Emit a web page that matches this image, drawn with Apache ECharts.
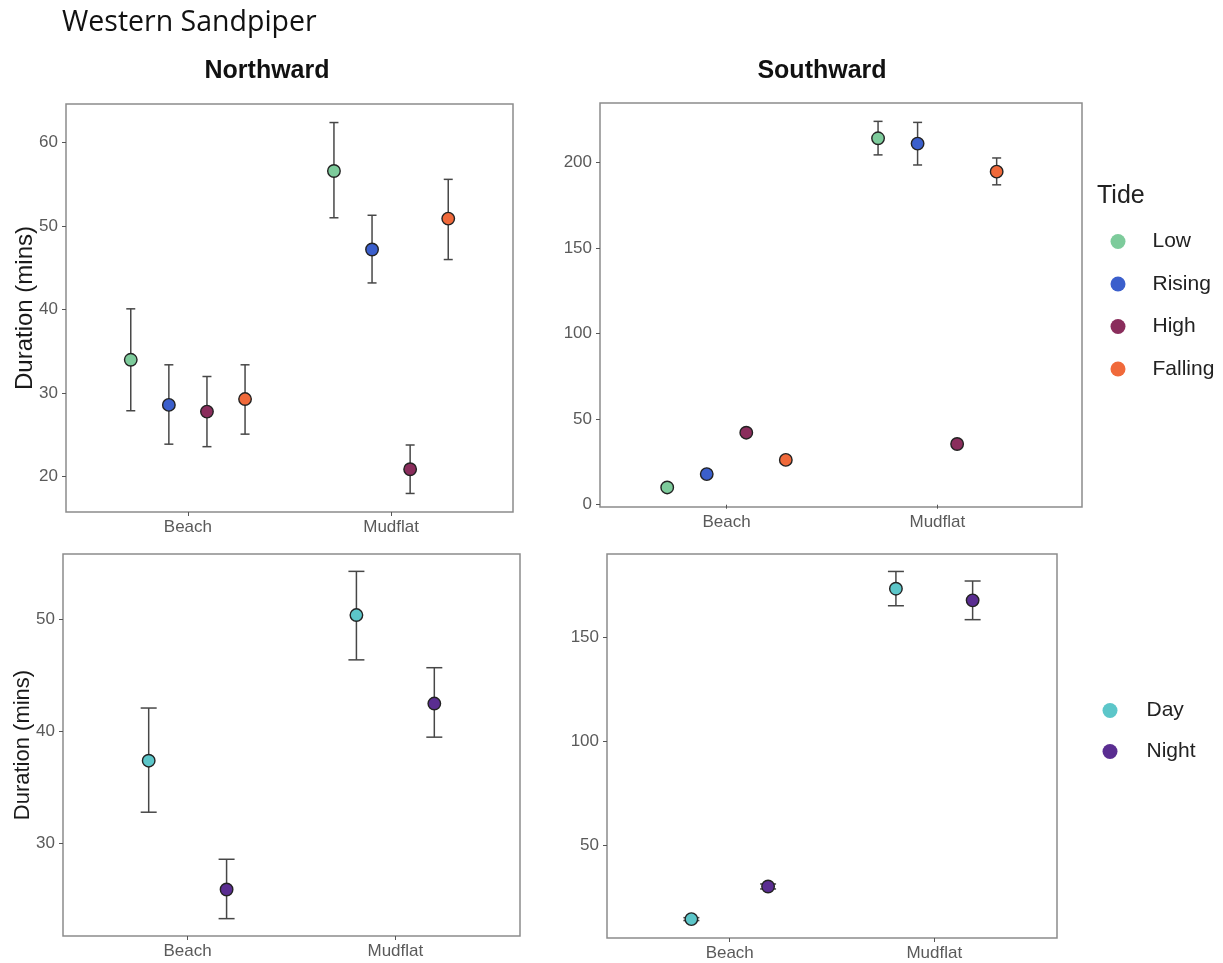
<!DOCTYPE html>
<html>
<head>
<meta charset="utf-8">
<script src="https://cdn.jsdelivr.net/npm/echarts@6/dist/echarts.min.js"></script>
<style>
html,body{margin:0;padding:0;background:#fff;}
#chart{width:1223px;height:963px;}
</style>
</head>
<body>
<div id="chart"></div>
<script>
// ---------- data ----------
const categories = ['Beach', 'Mudflat'];
const tideLevels = ['Low', 'Rising', 'High', 'Falling'];
const dielLevels = ['Day', 'Night'];
const tideColors = ['#7DCB9B', '#3B5FCC', '#8A2D5C', '#F0693A'];
const dielColors = ['#5CC6C9', '#5A2D91'];

// each row = one level, values for [Beach, Mudflat]
const northTideMean  = [[34.0, 56.6], [28.6, 47.2], [27.8, 20.9], [29.3, 50.9]];
const northTideLower = [[27.9, 51.0], [23.9, 43.2], [23.6, 18.0], [25.1, 46.0]];
const northTideUpper = [[40.1, 62.4], [33.4, 51.3], [32.0, 23.8], [33.4, 55.6]];

const southTideMean  = [[10.1, 214.2], [17.9, 211.1], [42.1, 35.5], [26.2, 194.7]];
const southTideLower = [[9.4, 204.5], [16.7, 198.6], [40.9, 34.3], [25.0, 187.0]];
const southTideUpper = [[10.8, 224.1], [19.1, 223.5], [43.3, 36.7], [27.4, 202.7]];

const northDielMean  = [[37.4, 50.4], [25.9, 42.5]];
const northDielLower = [[32.8, 46.4], [23.3, 39.5]];
const northDielUpper = [[42.1, 54.3], [28.6, 45.7]];

const southDielMean  = [[14.6, 173.6], [30.3, 168.0]];
const southDielLower = [[13.9, 165.4], [29.1, 158.7]];
const southDielUpper = [[15.3, 181.9], [31.5, 177.3]];

const northTideTicks = [20, 30, 40, 50, 60];
const southTideTicks = [0, 50, 100, 150, 200];
const northDielTicks = [30, 40, 50];
const southDielTicks = [50, 100, 150];

// ---------- layout ----------
const panels = [
  {mean: northTideMean, lower: northTideLower, upper: northTideUpper, levels: tideLevels, colors: tideColors,
   ticks: northTideTicks, grid: {left: 66, top: 104, width: 447, height: 408}, xMax: 2.6, cap: 4.5,
   yName: 'Duration (mins)', nameSize: 24},
  {mean: southTideMean, lower: southTideLower, upper: southTideUpper, levels: tideLevels, colors: tideColors,
   ticks: southTideTicks, grid: {left: 600, top: 103, width: 482, height: 404}, xMax: 2.686, cap: 4.5,
   yName: '', nameSize: 24},
  {mean: northDielMean, lower: northDielLower, upper: northDielUpper, levels: dielLevels, colors: dielColors,
   ticks: northDielTicks, grid: {left: 63, top: 554, width: 457, height: 382}, xMax: 2.6, cap: 8,
   yName: 'Duration (mins)', nameSize: 22},
  {mean: southDielMean, lower: southDielLower, upper: southDielUpper, levels: dielLevels, colors: dielColors,
   ticks: southDielTicks, grid: {left: 607, top: 554, width: 450, height: 384}, xMax: 2.6, cap: 8,
   yName: '', nameSize: 22}
];

const labelColor = '#5a5a5a';
const grids = [], xAxes = [], yAxes = [], series = [];

panels.forEach((p, pi) => {
  grids.push(Object.assign({show: true, borderColor: '#8c8c8c', borderWidth: 1.5, backgroundColor: '#fff'}, p.grid));
  const lows = p.lower.flat(), highs = p.upper.flat();
  const lo = Math.min(...lows), hi = Math.max(...highs);
  const pad = 0.05 * (hi - lo);
  xAxes.push({
    type: 'value', gridIndex: pi, min: 0.4, max: p.xMax,
    splitLine: {show: false}, axisLine: {show: false},
    axisTick: {show: true, customValues: [1, 2], length: 4, lineStyle: {color: '#555', width: 1}},
    axisLabel: {customValues: [1, 2], formatter: v => categories[Math.round(v) - 1],
      color: labelColor, fontSize: 17, fontFamily: 'Liberation Sans', margin: 7}
  });
  yAxes.push({
    type: 'value', gridIndex: pi, min: lo - pad, max: hi + pad,
    splitLine: {show: false}, axisLine: {show: false},
    axisTick: {show: true, customValues: p.ticks, length: 4, lineStyle: {color: '#555', width: 1}},
    axisLabel: {customValues: p.ticks, color: labelColor, fontSize: 17, fontFamily: 'Liberation Sans', margin: 8},
    name: p.yName, nameLocation: 'middle', nameGap: 29, nameMoveOverlap: false,
    nameTextStyle: {fontSize: p.nameSize, color: '#1a1a1a', fontFamily: 'Liberation Sans'}
  });
  const n = p.levels.length;
  const step = 0.75 / n;
  p.levels.forEach((lev, g) => {
    const xs = categories.map((c, i) => i + 1 + (g - (n - 1) / 2) * step);
    series.push({
      type: 'custom', name: 'err_' + pi + '_' + g, xAxisIndex: pi, yAxisIndex: pi, z: 2, silent: true,
      data: categories.map((c, i) => [xs[i], p.lower[g][i], p.upper[g][i]]),
      encode: {x: 0, y: [1, 2]},
      renderItem: (params, api) => {
        const x = api.value(0);
        const a = api.coord([x, api.value(1)]);
        const b = api.coord([x, api.value(2)]);
        const st = {stroke: '#474747', lineWidth: 1.5};
        const w = p.cap;
        return {type: 'group', children: [
          {type: 'line', shape: {x1: a[0], y1: a[1], x2: b[0], y2: b[1]}, style: st},
          {type: 'line', shape: {x1: a[0] - w, y1: a[1], x2: a[0] + w, y2: a[1]}, style: st},
          {type: 'line', shape: {x1: b[0] - w, y1: b[1], x2: b[0] + w, y2: b[1]}, style: st}
        ]};
      }
    });
    series.push({
      type: 'scatter', name: lev, xAxisIndex: pi, yAxisIndex: pi, z: 3,
      symbol: 'circle', symbolSize: 12.5,
      itemStyle: {color: p.colors[g], borderColor: '#222', borderWidth: 1.4, opacity: 1},
      data: categories.map((c, i) => [xs[i], p.mean[g][i]])
    });
  });
});

const legendText = {fontSize: 21, color: '#222', fontFamily: 'Liberation Sans', padding: [0, 0, 0, 22]};

const option = {
  backgroundColor: '#fff',
  animation: false,
  grid: grids,
  xAxis: xAxes,
  yAxis: yAxes,
  series: series,
  legend: [
    {data: tideLevels, orient: 'vertical', left: 1110.5, top: 231, padding: 0,
     itemWidth: 15, itemHeight: 15, itemGap: 21.5, icon: 'circle', selectedMode: false,
     itemStyle: {borderWidth: 0}, textStyle: legendText},
    {data: dielLevels, orient: 'vertical', left: 1102.5, top: 700, padding: 0,
     itemWidth: 15, itemHeight: 15, itemGap: 20, icon: 'circle', selectedMode: false,
     itemStyle: {borderWidth: 0}, textStyle: Object.assign({}, legendText, {padding: [0, 0, 0, 24]})}
  ],
  graphic: [
    {type: 'text', left: 62, top: 8, style: {text: 'Western Sandpiper', font: '28.5px "Open Sans"', fill: '#111'}},
    {type: 'text', x: 267, y: 71, style: {text: 'Northward', font: 'bold 25px "Liberation Sans"', fill: '#111', textAlign: 'center', textVerticalAlign: 'middle'}},
    {type: 'text', x: 822, y: 71, style: {text: 'Southward', font: 'bold 25px "Liberation Sans"', fill: '#111', textAlign: 'center', textVerticalAlign: 'middle'}},
    {type: 'text', x: 1097, y: 196, style: {text: 'Tide', font: '25px "Liberation Sans"', fill: '#222', textVerticalAlign: 'middle'}}
  ]
};

const chart = echarts.init(document.getElementById('chart'), null, {renderer: 'canvas'});
chart.setOption(option);
</script>
</body>
</html>
